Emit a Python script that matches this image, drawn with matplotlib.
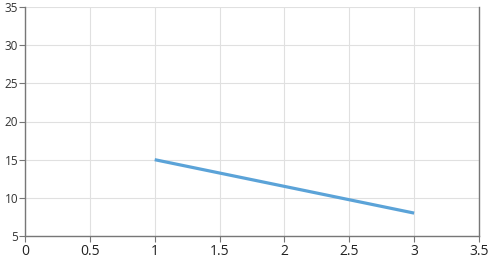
import matplotlib
matplotlib.use('Agg')
import matplotlib.pyplot as plt

x_values = [1, 3]
y_values = [15, 8]
x_ticks = [0, 0.5, 1, 1.5, 2, 2.5, 3, 3.5]
y_ticks = [5, 10, 15, 20, 25, 30, 35]

plt.rcParams['font.family'] = ['Open Sans', 'DejaVu Sans']

fig = plt.figure(figsize=(4.92, 2.64), dpi=100)
ax = fig.add_axes([25 / 492, 28 / 264, 454 / 492, 229 / 264])

ax.plot(x_values, y_values, color='#5ba3d8', linewidth=2.3, solid_capstyle='butt')

ax.set_xlim(0, 3.5)
ax.set_ylim(5, 35)
ax.set_xticks(x_ticks)
ax.set_xticklabels([f'{t:g}' for t in x_ticks])
ax.set_yticks(y_ticks)
ax.grid(True, color='#e0e0e0', linewidth=0.8)
ax.set_axisbelow(True)

ax.spines['top'].set_visible(False)
for side in ['left', 'bottom', 'right']:
    ax.spines[side].set_color('#777777')
    ax.spines[side].set_linewidth(1)

ax.tick_params(axis='x', length=4, color='#777777', labelsize=10, pad=2, labelcolor='#222222')
ax.tick_params(axis='y', length=4, color='#777777', labelsize=8.5, pad=1, labelcolor='#333333')

fig.savefig('out.png', dpi=100)
